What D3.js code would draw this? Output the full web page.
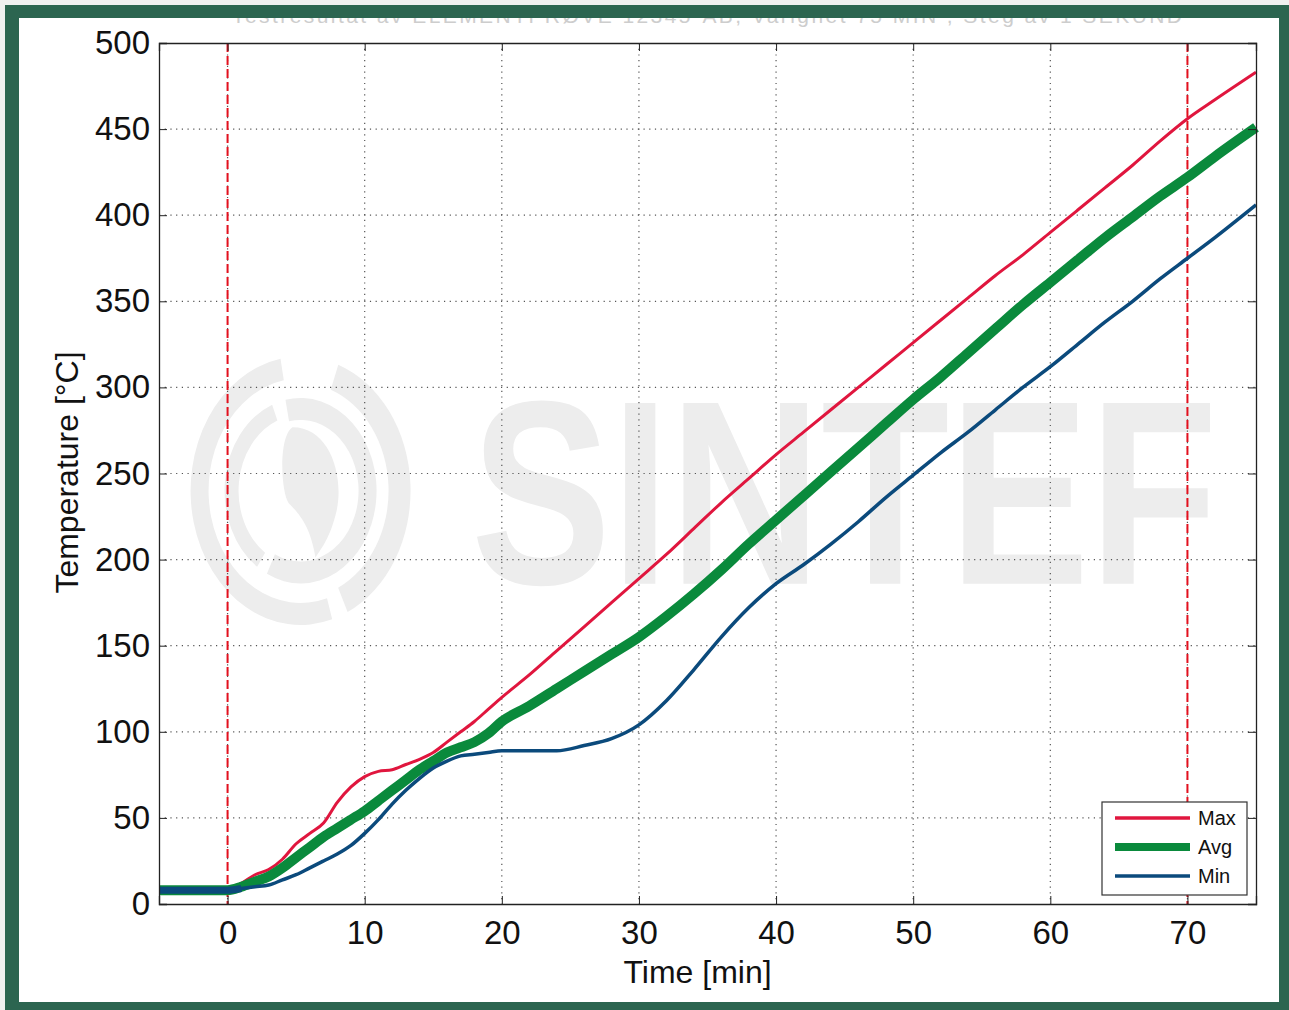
<!DOCTYPE html>
<html>
<head>
<meta charset="utf-8">
<script src="https://cdn.jsdelivr.net/npm/d3@7"></script>
<style>
  body { margin: 0; background: #f0f0f0; }
  svg { display: block; }
  text { font-family: "Liberation Sans", Arial, sans-serif; }
</style>
</head>
<body>
<div id="chart"></div>
<script>
// time axis (minutes) shared by the three series
var times = [-5, 0, 1, 2, 3, 4, 5, 6, 7, 8, 9, 10, 11, 12, 13, 14, 15, 16, 17, 18, 19, 20,
  22, 24, 26, 28, 30, 32, 34, 36, 38, 40, 42, 44, 46, 48, 50, 52, 54, 56, 58, 60,
  62, 64, 66, 68, 70, 72, 75];

var maxTemp = [9, 9, 12, 17, 20, 26, 35, 41, 47, 59, 68, 74, 77, 78, 81, 84, 88, 94, 100, 106, 113, 120,
  133, 147, 161, 175, 189, 203, 218, 233, 247, 261, 274, 287, 300, 313, 326, 339, 352, 365, 377, 390,
  403, 416, 429, 443, 456, 467, 483];

var avgTemp = [8, 8, 10, 13, 16, 21, 27, 33, 39, 44, 49, 54, 60, 66, 72, 78, 83, 88, 91, 94, 99, 106,
  115, 125, 135, 145, 155, 167, 180, 194, 209, 223, 237, 251, 265, 279, 293, 306, 320, 334, 348, 361,
  374, 387, 399, 411, 422, 434, 451];

var minTemp = [8, 8, 9, 10, 11, 14, 17, 21, 25, 29, 34, 41, 49, 58, 66, 73, 79, 83, 86, 87, 88, 89,
  89, 89, 92, 96, 104, 118, 136, 155, 172, 186, 197, 209, 222, 236, 249, 262, 274, 287, 300, 312,
  325, 338, 350, 363, 375, 387, 406];

var xTicks = [0, 10, 20, 30, 40, 50, 60, 70];
var yTicks = [0, 50, 100, 150, 200, 250, 300, 350, 400, 450, 500];
var markerTimes = [0, 70];

var seriesNames = ["Max", "Avg", "Min"];
var seriesColors = ["#e0163e", "#0a8a3c", "#0b4a7c"];
var seriesWidths = [3, 10, 3.5];

var svgWidth = 1289, svgHeight = 1010;
var margin = { top: 43, right: 33, bottom: 106, left: 159 };
var width = svgWidth - margin.left - margin.right;
var height = svgHeight - margin.top - margin.bottom;

var svg = d3.select("#chart").append("svg")
  .attr("width", svgWidth)
  .attr("height", svgHeight);

// frame
svg.append("rect").attr("width", svgWidth).attr("height", svgHeight).attr("fill", "#f0f0f0");
svg.append("rect").attr("x", 5).attr("y", 5).attr("width", svgWidth - 5).attr("height", svgHeight - 5)
  .attr("fill", "#2c6550");
svg.append("rect").attr("x", 19).attr("y", 18).attr("width", 1260).attr("height", 984)
  .attr("fill", "#ffffff");

// title, mostly hidden under the frame
svg.append("clipPath").attr("id", "inner")
  .append("rect").attr("x", 19).attr("y", 18).attr("width", 1260).attr("height", 984);
svg.append("text")
  .attr("clip-path", "url(#inner)")
  .attr("x", 232).attr("y", 23)
  .attr("textLength", 950)
  .attr("font-size", 21)
  .attr("fill", "#cdcdcd")
  .text("Testresultat av ELEMENTPRØVE 12345-AB, Varighet 75 MIN , Steg av 1 SEKUND");

var g = svg.append("g").attr("transform", `translate(${margin.left},${margin.top})`);

var x = d3.scaleLinear().domain([-5, 75]).range([0, width]);
var y = d3.scaleLinear().domain([0, 500]).range([height, 0]);

// watermark
var wm = g.append("g").attr("fill", "#ededed");
var logo = wm.append("g").attr("transform", `translate(${x(0) + 73},${y(240)}) scale(1,1.22)`);
var arc = d3.arc();
logo.append("path").attr("d", arc({ innerRadius: 88, outerRadius: 110, startAngle: 0.35, endAngle: 2.7 }));
logo.append("path").attr("d", arc({ innerRadius: 92, outerRadius: 110, startAngle: 2.85, endAngle: 6.1 }));
logo.append("path").attr("d", arc({ innerRadius: 58, outerRadius: 76, startAngle: -0.2, endAngle: 3.6 }));
logo.append("path").attr("d", arc({ innerRadius: 62, outerRadius: 76, startAngle: 3.75, endAngle: 5.9 }));
logo.append("path").attr("d", "M -8 -52 C 30 -52 45 -10 35 20 C 28 42 18 50 15 55 C 10 30 0 20 -12 10 C -20 0 -22 -45 -8 -52 Z");
wm.append("text")
  .attr("transform", `translate(312,${y(186)}) scale(1,1.25)`)
  .attr("font-size", 210).attr("font-weight", "bold")
  .text("SINTEF");

// grid
var grid = g.append("g").attr("stroke", "#555").attr("stroke-width", 1.2)
  .attr("stroke-dasharray", "1.2,4.5");
grid.selectAll(".gx").data(xTicks).enter().append("line")
  .attr("x1", d => x(d)).attr("x2", d => x(d)).attr("y1", 0).attr("y2", height);
grid.selectAll(".gy").data(yTicks.slice(1, -1)).enter().append("line")
  .attr("x1", 0).attr("x2", width).attr("y1", d => y(d)).attr("y2", d => y(d));

// marker lines at start and end
g.selectAll(".marker").data(markerTimes).enter().append("line")
  .attr("x1", d => x(d)).attr("x2", d => x(d)).attr("y1", 0).attr("y2", height)
  .attr("stroke", "#e3101e").attr("stroke-width", 2).attr("stroke-dasharray", "9,4");

// series
var line = d3.line().x(d => x(d[0])).y(d => y(d[1])).curve(d3.curveMonotoneX);
[maxTemp, avgTemp, minTemp].forEach(function(vals, i) {
  g.append("path")
    .datum(times.map((t, j) => [t, vals[j]]))
    .attr("fill", "none")
    .attr("stroke", seriesColors[i])
    .attr("stroke-width", seriesWidths[i])
    .attr("stroke-linejoin", "round")
    .attr("d", line);
});
// min line is drawn on top of avg in the flat part
g.append("path")
  .datum(times.slice(0, 3).map((t, j) => [t, minTemp[j]]))
  .attr("fill", "none").attr("stroke", seriesColors[2]).attr("stroke-width", 7)
  .attr("d", line);

// axes (ticks inside, MATLAB style)
var xAxis = g.append("g").attr("transform", `translate(0,${height})`)
  .call(d3.axisBottom(x).tickValues(xTicks).tickSize(-8).tickPadding(17));
var xTop = g.append("g")
  .call(d3.axisTop(x).tickValues(xTicks).tickSize(-8).tickFormat(""));
var yAxis = g.append("g")
  .call(d3.axisLeft(y).tickValues(yTicks).tickSize(-8).tickPadding(9));
var yRight = g.append("g").attr("transform", `translate(${width},0)`)
  .call(d3.axisRight(y).tickValues(yTicks).tickSize(-8).tickFormat(""));
[xAxis, xTop, yAxis, yRight].forEach(function(a) {
  a.select(".domain").attr("stroke", "#222").attr("stroke-width", 1.3);
  a.selectAll(".tick line").attr("stroke", "#222");
  a.selectAll("text").attr("font-size", 33).attr("fill", "#111")
    .attr("font-family", "'Liberation Sans', Arial, sans-serif");
});

// axis titles
g.append("text")
  .attr("x", width / 2 - 10).attr("y", height + 79)
  .attr("text-anchor", "middle").attr("font-size", 32).attr("fill", "#111")
  .text("Time [min]");
g.append("text")
  .attr("transform", `translate(-81,${height / 2 - 1}) rotate(-90)`)
  .attr("text-anchor", "middle").attr("font-size", 32).attr("fill", "#111")
  .text("Temperature [°C]");

// legend
var lg = g.append("g").attr("transform", `translate(${1102 - margin.left},${802 - margin.top})`);
lg.append("rect").attr("width", 145).attr("height", 93)
  .attr("fill", "#fff").attr("stroke", "#333").attr("stroke-width", 1.2);
seriesNames.forEach(function(name, i) {
  var yy = 16 + i * 29;
  lg.append("line").attr("x1", 13).attr("x2", 88).attr("y1", yy).attr("y2", yy)
    .attr("stroke", seriesColors[i]).attr("stroke-width", i === 1 ? 8 : 3.5);
  lg.append("text").attr("x", 96).attr("y", yy + 7).attr("font-size", 20).attr("fill", "#111")
    .text(name);
});
</script>
</body>
</html>
